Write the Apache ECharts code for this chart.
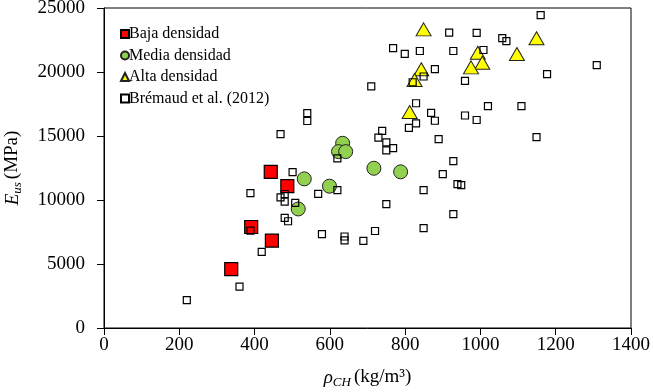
<!DOCTYPE html>
<html>
<head>
<meta charset="utf-8">
<script src="https://cdn.jsdelivr.net/npm/echarts@6/dist/echarts.min.js"></script>
<style>
html, body { margin: 0; padding: 0; background: #fff; }
#main { width: 653px; height: 392px; }
</style>
</head>
<body>
<div id="main"></div>
<script>
// densidad (kg/m3) y modulo Eus (MPa)
var bajaX = [338, 391, 446, 443, 487];
var bajaY = [4600, 7890, 6820, 12190, 11080];

var mediaX = [516, 532, 599, 634, 623, 642, 717, 788];
var mediaY = [9300, 11650, 11080, 14430, 13780, 13780, 12480, 12200];

var altaX = [849, 843, 825, 812, 993, 1005, 975, 1097, 1149];
var altaY = [23330, 20210, 19380, 16880, 21500, 20720, 20360, 21400, 22640];

var bremaudX = [220, 360, 419, 389, 389, 469, 501, 469, 480, 480, 508, 480, 489,
    540, 540, 569, 579, 620, 620, 639, 639, 689, 720, 750, 710, 729, 739, 750, 768,
    750, 768, 799, 839, 849, 810, 829, 829, 849, 849, 869, 879, 879, 889, 900, 928,
    928, 939, 949, 917, 928, 959, 959, 990, 990, 1008, 1020, 1058, 1069, 1109, 1149,
    1160, 1177, 1309, 820];
var bremaudY = [2180, 3240, 5940, 7600, 10540, 15150, 12180, 10200, 10470, 9880, 9770,
    8600, 8340, 16790, 16170, 10480, 7330, 10770, 13250, 7150, 6850, 6810, 7580, 9680,
    18880, 14880, 15400, 14500, 14050, 13880, 21860, 21420, 21640, 19650, 15630, 17560,
    15990, 10770, 7800, 16800, 16190, 20230, 14760, 12020, 13040, 8900, 11240, 11160,
    23080, 21640, 19300, 16600, 23060, 16250, 21720, 17340, 22650, 22410, 17340, 14910,
    24440, 19830, 20540, 19200];

var xTicks = [0, 200, 400, 600, 800, 1000, 1200, 1400];
var yTicks = [0, 5000, 10000, 15000, 20000, 25000];

function pares(xs, ys) {
    var out = [];
    for (var i = 0; i < xs.length; i++) out.push([xs[i], ys[i]]);
    return out;
}
function plano(v) { return String(v); }

var serif = 'Liberation Serif';
var myChart = echarts.init(document.getElementById('main'));
var option = {
    animation: false,
    textStyle: { fontFamily: serif, color: '#000' },
    grid: {
        left: 104, right: 22, top: 8, bottom: 64,
        outerBoundsMode: 'none', containLabel: false,
        show: true, borderColor: '#000', borderWidth: 1
    },
    legend: {
        orient: 'vertical',
        left: 115, top: 21,
        itemWidth: 8, itemHeight: 8, itemGap: 5.5,
        textStyle: { fontFamily: serif, fontSize: 16, color: '#000', padding: [0, 0, 0, -5] },
        data: [
            { name: 'Baja densidad', icon: 'rect' },
            { name: 'Media densidad', icon: 'circle' },
            { name: 'Alta densidad', icon: 'triangle' },
            { name: 'Brémaud et al. (2012)', icon: 'rect' }
        ]
    },
    xAxis: {
        type: 'value',
        min: xTicks[0], max: xTicks[xTicks.length - 1], interval: 200,
        axisLine: { lineStyle: { color: '#000', width: 1 } },
        axisTick: { length: 7, lineStyle: { color: '#000' } },
        splitLine: { show: false },
        axisLabel: { fontFamily: serif, fontSize: 19, color: '#000', margin: 8, formatter: plano },
        name: '{i|ρ}{s|CH} {n|(kg/m³)}',
        nameLocation: 'middle',
        nameGap: 38,
        nameTextStyle: {
            rich: {
                i: { fontFamily: serif, fontStyle: 'italic', fontSize: 19, color: '#000' },
                s: { fontFamily: serif, fontStyle: 'italic', fontSize: 13, color: '#000', padding: [10, 0, 0, 0] },
                n: { fontFamily: serif, fontSize: 19, color: '#000' }
            }
        }
    },
    yAxis: {
        type: 'value',
        min: yTicks[0], max: yTicks[yTicks.length - 1], interval: 5000,
        axisLine: { show: true, lineStyle: { color: '#000', width: 1 } },
        axisTick: { show: true, length: 7, lineStyle: { color: '#000' } },
        splitLine: { show: false },
        axisLabel: { fontFamily: serif, fontSize: 19, color: '#000', margin: 19, formatter: plano },
        name: '{i|E}{s|us} {n|(MPa)}',
        nameLocation: 'middle',
        nameGap: 80,
        nameTextStyle: {
            rich: {
                i: { fontFamily: serif, fontStyle: 'italic', fontSize: 19, color: '#000' },
                s: { fontFamily: serif, fontStyle: 'italic', fontSize: 13, color: '#000', padding: [10, 0, 0, 0] },
                n: { fontFamily: serif, fontSize: 19, color: '#000' }
            }
        }
    },
    series: [
        {
            name: 'Baja densidad', type: 'scatter', symbol: 'rect', symbolSize: 13,
            itemStyle: { color: '#ff0000', borderColor: '#000', borderWidth: 1.2, opacity: 1 },
            data: pares(bajaX, bajaY)
        },
        {
            name: 'Media densidad', type: 'scatter', symbol: 'circle', symbolSize: 14,
            itemStyle: { color: '#92d050', borderColor: '#222', borderWidth: 1, opacity: 1 },
            data: pares(mediaX, mediaY)
        },
        {
            name: 'Alta densidad', type: 'scatter', symbol: 'triangle', symbolSize: [15, 13],
            itemStyle: { color: '#ffff00', borderColor: '#222', borderWidth: 1, opacity: 1 },
            data: pares(altaX, altaY)
        },
        {
            name: 'Brémaud et al. (2012)', type: 'scatter', symbol: 'rect', symbolSize: 7,
            itemStyle: { color: 'rgba(255,255,255,0)', borderColor: '#000', borderWidth: 1.2, opacity: 1 },
            data: pares(bremaudX, bremaudY)
        }
    ]
};
myChart.setOption(option);
</script>
</body>
</html>
